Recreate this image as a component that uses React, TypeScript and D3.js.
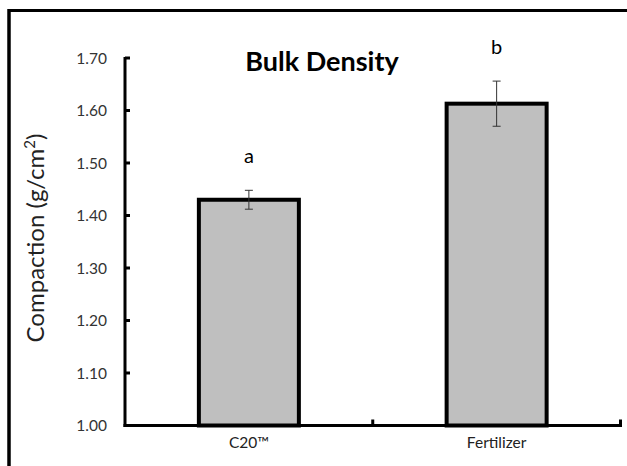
import React from "react";
import * as d3 from "d3";

const categories = ["C20™", "Fertilizer"];
const means = [1.43, 1.613];
const errors = [0.018, 0.043];
const letters = ["a", "b"];
const yTicks = [1.0, 1.1, 1.2, 1.3, 1.4, 1.5, 1.6, 1.7];

const W = 627;
const H = 466;
const FONT = "Lato, 'Open Sans', sans-serif";

export default function App() {
  const x0 = 125, x1 = 620.5;
  const yTop = 58, yBot = 425.5;
  const y = d3.scaleLinear().domain([1.0, 1.7]).range([yBot, yTop]);
  const x = d3.scaleBand().domain(categories).range([x0, x1]).paddingInner(0).paddingOuter(0);
  const bw = 100;

  return (
    <svg width={W} height={H} style={{ position: "absolute", left: 0, top: 0, background: "#fff" }}>
      <rect x={0} y={0} width={W} height={H} fill="#fff" />
      {/* frame */}
      <line x1={9} y1={10.5} x2={W} y2={10.5} stroke="#000" strokeWidth={3} />
      <line x1={9} y1={9} x2={9} y2={H} stroke="#000" strokeWidth={3.5} />

      {/* title */}
      <text x={322} y={71} textAnchor="middle" fontFamily={FONT} fontWeight="bold" fontSize={27} fill="#000">
        Bulk Density
      </text>

      {/* bars */}
      {categories.map((c, i) => {
        const cx = (x(c) as number) + x.bandwidth() / 2;
        return (
          <g key={c}>
            <rect x={cx - bw / 2} y={y(means[i])} width={bw} height={yBot - y(means[i])}
              fill="#bfbfbf" stroke="#000" strokeWidth={4} />
            <line x1={cx} x2={cx} y1={y(means[i] + errors[i])} y2={y(means[i] - errors[i])} stroke="#333" strokeWidth={1} />
            <line x1={cx - 4} x2={cx + 4} y1={y(means[i] + errors[i])} y2={y(means[i] + errors[i])} stroke="#333" strokeWidth={1} />
            <line x1={cx - 4} x2={cx + 4} y1={y(means[i] - errors[i])} y2={y(means[i] - errors[i])} stroke="#333" strokeWidth={1} />
            <text x={cx} y={y(means[i] + errors[i]) - 27} textAnchor="middle" fontFamily={FONT} fontSize={20} fill="#000">
              {letters[i]}
            </text>
            <text x={cx} y={448} textAnchor="middle" fontFamily={FONT} fontSize={15.5} fill="#222">
              {c}
            </text>
          </g>
        );
      })}

      {/* y axis */}
      <line x1={x0} x2={x0} y1={yTop - 1} y2={yBot + 1.5} stroke="#000" strokeWidth={3} />
      {yTicks.map((t) => (
        <g key={t}>
          <line x1={x0} x2={x0 + 5} y1={y(t)} y2={y(t)} stroke="#000" strokeWidth={3} />
          <text x={107} y={y(t) + 5.5} textAnchor="end" fontFamily={FONT} fontSize={15.5} fill="#333">
            {t.toFixed(2)}
          </text>
        </g>
      ))}

      {/* x axis */}
      <line x1={x0 - 1.5} x2={x1 + 1.5} y1={yBot} y2={yBot} stroke="#000" strokeWidth={3} />
      {[x0 + x.bandwidth(), x1].map((tx, i) => (
        <line key={i} x1={tx} x2={tx} y1={yBot} y2={yBot - 6} stroke="#000" strokeWidth={3} />
      ))}

      {/* y label */}
      <text transform="translate(44,238) rotate(-90)" textAnchor="middle" fontFamily={FONT} fontSize={24} fill="#222">
        Compaction (g/cm<tspan dy={-9} fontSize={15}>2</tspan><tspan dy={9}>)</tspan>
      </text>
    </svg>
  );
}
